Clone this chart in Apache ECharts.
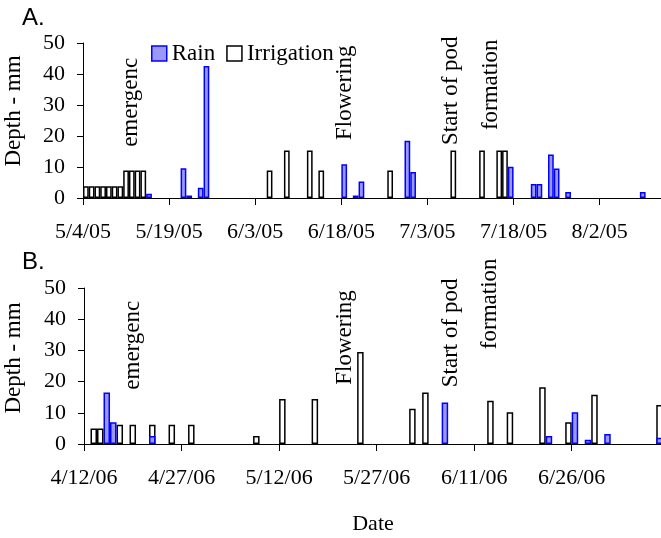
<!DOCTYPE html>
<html><head><meta charset="utf-8">
<script src="https://cdn.jsdelivr.net/npm/echarts@6/dist/echarts.min.js"></script>
<style>html,body{margin:0;padding:0;background:#fff}#c{width:661px;height:538px}</style>
</head><body><div id="c"></div>
<script>
// ---- data ----
const startA = '2005-05-04';
const startB = '2006-04-12';
const tickLabelsA = ['5/4/05','5/19/05','6/3/05','6/18/05','7/3/05','7/18/05','8/2/05'];
const tickLabelsB = ['4/12/06','4/27/06','5/12/06','5/27/06','6/11/06','6/26/06'];
const rainDatesA = ['2005-05-15','2005-05-21','2005-05-22','2005-05-24','2005-05-25','2005-06-18','2005-06-20','2005-06-21','2005-06-29','2005-06-30','2005-07-17','2005-07-21','2005-07-22','2005-07-24','2005-07-25','2005-07-27','2005-08-09'];
const rainValuesA = [1.4,9.6,0.8,3.3,42.6,10.9,0.8,5.3,18.5,8.4,10.1,4.5,4.5,14,9.5,1.9,1.9];
const irrDatesA = ['2005-05-04','2005-05-05','2005-05-06','2005-05-07','2005-05-08','2005-05-09','2005-05-10','2005-05-11','2005-05-12','2005-05-13','2005-05-14','2005-06-05','2005-06-08','2005-06-12','2005-06-14','2005-06-26','2005-07-07','2005-07-12','2005-07-15','2005-07-16'];
const irrValuesA = [3.8,3.8,3.8,3.8,3.8,3.8,3.8,8.9,8.9,8.9,8.9,8.9,15.3,15.3,8.9,8.9,15.3,15.3,15.3,15.3];
const rainDatesB = ['2006-04-15','2006-04-16','2006-04-22','2006-06-06','2006-06-22','2006-06-26','2006-06-28','2006-07-01','2006-07-09'];
const rainValuesB = [16.5,7,2.6,13.3,2.6,10.2,1.4,3.2,2];
const irrDatesB = ['2006-04-13','2006-04-14','2006-04-17','2006-04-19','2006-04-22','2006-04-25','2006-04-28','2006-05-08','2006-05-12','2006-05-17','2006-05-24','2006-06-01','2006-06-03','2006-06-13','2006-06-16','2006-06-21','2006-06-25','2006-06-29','2006-07-09'];
const irrValuesB = [5,5,6.2,6.2,6.2,6.2,6.2,2.6,14.4,14.4,29.5,11.3,16.5,13.9,10.2,18.2,7,15.8,12.5];
// stage annotations: [text, day offset, depth at text start]
const notesA = [['emergenc',8.4,16.5],['Flowering',45.6,18.7],['Start of pod',64.1,17.1],['formation',71.1,21.9]];
const notesB = [['emergenc',7.5,17.4],['Flowering',40.1,19],['Start of pod',56.4,18.2],['formation',62.4,30.4]];

// ---- helpers ----
const DAY = 86400000;
const toMs = s => { const p = s.split('-').map(Number); return Date.UTC(p[0], p[1]-1, p[2]); };
const dayIdx = (s, start) => (toMs(s) - toMs(start)) / DAY;
const pairs = (dates, vals, start) => dates.map((d, i) => [dayIdx(d, start) + 0.5, vals[i]]);

const FONT = "'Liberation Serif','Times New Roman',serif";
const gA = {left:83, top:43, width:578, height:155};
const gB = {left:84, top:288, width:577, height:156};
const spanA = 100.68, spanB = 88.73;
const slotA = gA.width / spanA, slotB = gB.width / spanB;

const rainStyle = {color:'#9999ff', borderColor:'#0000ff', borderWidth:1.5};
const irrStyle = {color:'#ffffff', borderColor:'#000000', borderWidth:1.5};

function xAxis(gi, span, labels){
  const ticks = labels.map((_, i) => i*15);
  return {type:'value', gridIndex:gi, min:0, max:span,
    axisLine:{show:true, onZero:false, lineStyle:{color:'#000', width:1}},
    axisTick:{show:true, customValues:ticks, length:7, lineStyle:{color:'#000'}},
    splitLine:{show:false},
    axisLabel:{customValues:ticks, margin:23, fontFamily:FONT, fontSize:22, color:'#000',
      formatter: v => labels[Math.round(v/15)] || ''}};
}
function yAxis(gi){
  return {type:'value', gridIndex:gi, min:0, max:50, interval:10,
    axisLine:{show:true, lineStyle:{color:'#000', width:1}},
    axisTick:{show:true, length:6, lineStyle:{color:'#000'}},
    splitLine:{show:false},
    axisLabel:{margin:18, fontFamily:FONT, fontSize:22, color:'#000'}};
}
function bar(name, gi, data, style, w, z){
  return {type:'bar', name, xAxisIndex:gi, yAxisIndex:gi, data, barWidth:w, barGap:'-100%',
    itemStyle:style, z, animation:false, emphasis:{disabled:true}};
}

const chart = echarts.init(document.getElementById('c'), null, {renderer:'canvas'});
chart.setOption({
  animation:false,
  grid:[gA, gB],
  xAxis:[xAxis(0, spanA, tickLabelsA), xAxis(1, spanB, tickLabelsB)],
  yAxis:[yAxis(0), yAxis(1)],
  legend:{left:146, top:37, itemWidth:15, itemHeight:15, itemGap:11, icon:'rect',
    textStyle:{fontFamily:FONT, fontSize:23, color:'#000'},
    data:[{name:'Rain', itemStyle:rainStyle}, {name:'Irrigation', itemStyle:irrStyle}]},
  series:[
    bar('Irrigation', 0, pairs(irrDatesA, irrValuesA, startA), irrStyle, slotA, 2),
    bar('Rain', 0, pairs(rainDatesA, rainValuesA, startA), rainStyle, slotA, 3),
    bar('Irrigation', 1, pairs(irrDatesB, irrValuesB, startB), irrStyle, slotB, 2),
    bar('Rain', 1, pairs(rainDatesB, rainValuesB, startB), rainStyle, slotB, 3)
  ]
});

// graphic texts (panel letters, axis titles, stage notes)
const g = [];
const txt = (x, y, text, opt) => g.push(Object.assign({type:'text', x, y, silent:true,
  style:Object.assign({text, fill:'#000', font:"23px "+FONT}, opt.style||{})}, opt.el||{}));
txt(22, 18, 'A.', {style:{font:"24px 'Liberation Sans',Arial,sans-serif", verticalAlign:'middle'}});
txt(22, 262, 'B.', {style:{font:"24px 'Liberation Sans',Arial,sans-serif", verticalAlign:'middle'}});
txt(14, 111, 'Depth - mm', {style:{align:'center', verticalAlign:'middle'}, el:{rotation:Math.PI/2}});
txt(14, 358, 'Depth - mm', {style:{align:'center', verticalAlign:'middle'}, el:{rotation:Math.PI/2}});
txt(373, 524, 'Date', {style:{font:"22px "+FONT, align:'center', verticalAlign:'middle'}});
notesA.forEach(n => { const p = chart.convertToPixel({gridIndex:0}, [n[1], n[2]]);
  txt(p[0], p[1], n[0], {style:{align:'left', verticalAlign:'middle'}, el:{rotation:Math.PI/2}}); });
notesB.forEach(n => { const p = chart.convertToPixel({gridIndex:1}, [n[1], n[2]]);
  txt(p[0], p[1], n[0], {style:{align:'left', verticalAlign:'middle'}, el:{rotation:Math.PI/2}}); });
chart.setOption({graphic:g});
</script></body></html>
